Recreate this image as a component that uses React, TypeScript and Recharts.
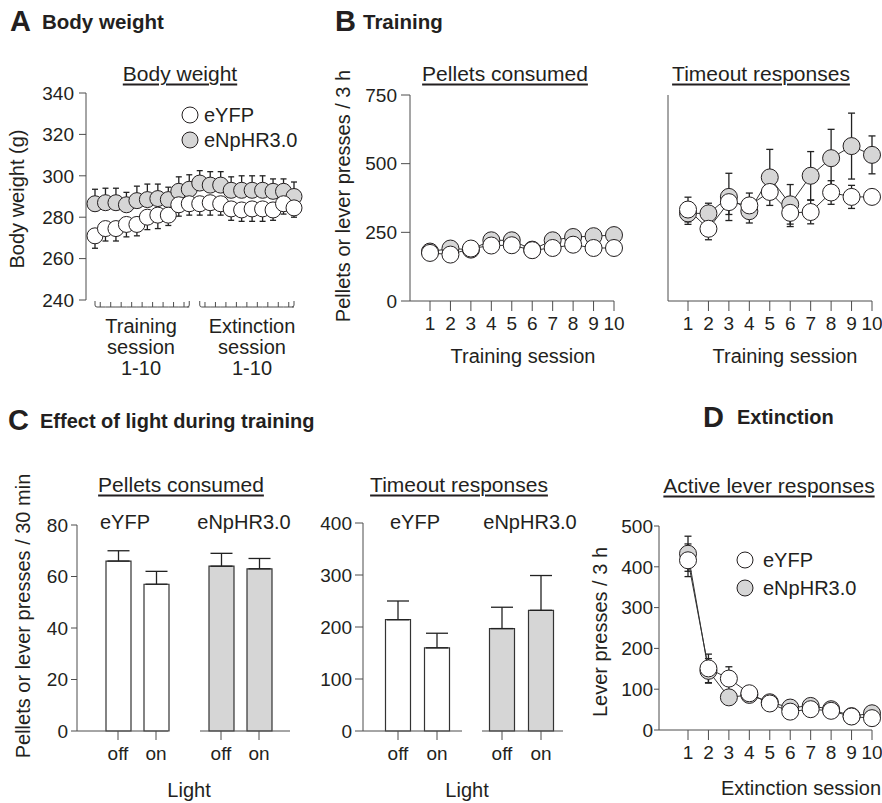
import React from 'react';
import { LineChart, Line, BarChart, Bar, XAxis, YAxis, ErrorBar } from 'recharts';

const FONT = '"Liberation Sans", Arial, Helvetica, sans-serif';
const INK = '#231f20';
const AXIS = '#4d4d4d';
const GREY = '#d6d6d6';

// A: body weight over training 1-10 then extinction 1-10
const bwSessions = [1, 2, 3, 4, 5, 6, 7, 8, 9, 10, 11, 12, 13, 14, 15, 16, 17, 18, 19, 20];
const bwEyfp = [271, 274.5, 274.5, 276.5, 276.5, 280, 281, 281, 286, 286.5, 286.5, 287, 286.5, 284, 283.5, 284, 284, 283.5, 286.5, 284.5];
const bwEyfpSem = [6, 6, 6, 6, 5.5, 6, 6.5, 5, 5.5, 5.5, 5.5, 6, 5.5, 5.5, 5.5, 6, 6, 5, 5, 4.5];
const bwNphr = [286.5, 287, 287, 286, 288, 288.5, 289, 288.5, 292.5, 293.5, 296.5, 295.5, 295.5, 293, 293, 293, 293, 292.5, 292.5, 290];
const bwNphrSem = [7, 7, 7, 6, 7, 7.5, 7, 6, 7, 7, 6, 6.5, 6.5, 6.5, 7, 7, 7, 6, 6, 7];
const bwTicks = [240, 260, 280, 300, 320, 340];

// B: training, 3 h sessions
const sessions = [1, 2, 3, 4, 5, 6, 7, 8, 9, 10];
const pelletsEyfp = [175, 169, 191, 202, 203, 185, 193, 205, 193, 193];
const pelletsNphr = [180, 191, 187, 221, 221, 187, 221, 233, 236, 240];
const timeoutEyfp = [333, 263, 360, 348, 397, 321, 324, 395, 379, 379];
const timeoutEyfpSem = [45, 40, 45, 45, 25, 50, 43, 43, 42, 10];
const timeoutNphr = [319, 319, 379, 327, 450, 352, 456, 520, 564, 532];
const timeoutNphrSem = [40, 37, 86, 43, 102, 72, 88, 105, 120, 69];
const trainTicks = [0, 250, 500, 750];

// C: light off / on, 30 min
const lightConds = ['off', 'on'];
const lightPelletsEyfp = [66, 57];
const lightPelletsEyfpSem = [4, 5];
const lightPelletsNphr = [64, 63];
const lightPelletsNphrSem = [5, 4];
const lightTimeoutEyfp = [214, 160];
const lightTimeoutEyfpSem = [36, 28];
const lightTimeoutNphr = [197, 232];
const lightTimeoutNphrSem = [41, 67];
const pelletTicks = [0, 20, 40, 60, 80];
const timeoutTicks = [0, 100, 200, 300, 400];

// D: extinction
const extEyfp = [416, 151, 126, 90, 65, 45, 51, 47, 33, 29];
const extEyfpSem = [40, 35, 29, 8, 6, 6, 6, 6, 6, 6];
const extNphr = [432, 145, 80, 86, 68, 55, 59, 51, 34, 41];
const extNphrSem = [43, 30, 15, 8, 6, 6, 6, 6, 6, 6];
const extTicks = [0, 100, 200, 300, 400, 500];

const bwData = bwSessions.map((s, i) => ({
  s,
  eyfp: bwEyfp[i],
  eyfpErr: [bwEyfpSem[i], 0],
  nphr: bwNphr[i],
  nphrErr: [0, bwNphrSem[i]],
}));
const pelletsData = sessions.map((s, i) => ({ s, eyfp: pelletsEyfp[i], nphr: pelletsNphr[i] }));
const timeoutData = sessions.map((s, i) => ({
  s,
  eyfp: timeoutEyfp[i],
  eyfpErr: timeoutEyfpSem[i],
  nphr: timeoutNphr[i],
  nphrErr: timeoutNphrSem[i],
}));
const extData = sessions.map((s, i) => ({
  s,
  eyfp: extEyfp[i],
  eyfpErr: extEyfpSem[i],
  nphr: extNphr[i],
  nphrErr: extNphrSem[i],
}));
const barRows = (v: number[], e: number[]) => lightConds.map((c, i) => ({ c, v: v[i], err: [0, e[i]] }));

const tickFont = { fontSize: 19, fill: INK };
const BW_PAD_L = 9;
const BW_PAD_R = 6;
const BW_PLOT_W = 214;
const BW_STEP = (BW_PLOT_W - BW_PAD_L - BW_PAD_R) / (bwSessions.length - 1);

function Txt({ x, y, children, size = 20, bold = false, align = 'center', rotate = 0, underline = false }: any) {
  const tx = align === 'center' ? '-50%' : '0';
  return (
    <div
      style={{
        position: 'absolute',
        left: x,
        top: y,
        transform: `translate(${tx}, -50%) rotate(${rotate}deg)`,
        fontSize: size,
        fontWeight: bold ? 700 : 400,
        lineHeight: 1,
        whiteSpace: 'nowrap',
        textDecoration: underline ? 'underline' : 'none',
        textDecorationThickness: 1.5,
        textUnderlineOffset: 3,
      }}
    >
      {children}
    </div>
  );
}

function LegendRow({ x, y, fill, label, gap = 14 }: any) {
  return (
    <>
      <svg style={{ position: 'absolute', left: x - 9, top: y - 9 }} width={18} height={18}>
        <circle cx={9} cy={9} r={8} fill={fill} stroke={INK} strokeWidth={1} />
      </svg>
      <Txt x={x + gap} y={y} align="start">{label}</Txt>
    </>
  );
}

// session brackets under the body weight panel
function BracketTick(props: any) {
  const { x, y, payload } = props;
  const v = payload.value;
  const s = BW_STEP;
  const base = y + 7;
  const first = v === 1 || v === 11;
  const last = v === 10 || v === 20;
  const d: string[] = [];
  if (first) d.push(`M${x},${y + 1} V${base - 2} Q${x},${base} ${x + 2},${base}`);
  if (last) d.push(`M${x - 2},${base} Q${x},${base} ${x},${base - 2} V${y + 1}`);
  if (!last) {
    d.push(`M${first ? x + 2 : x},${base} H${x + s}`);
    d.push(`M${x + s / 2},${base} V${base - 5}`);
  }
  return <path d={d.join(' ')} fill="none" stroke={AXIS} strokeWidth={1} />;
}

const dotStyle = (fill: string, r: number) => ({ r, fill, stroke: INK, strokeWidth: 1 });

function SessionPlot({ data, left, top, width, height, marginTop, marginRight, yWidth, ticks, labels, padLeft, r, errors, yTickSize, yTickMargin }: any) {
  const max = ticks[ticks.length - 1];
  return (
    <div style={{ position: 'absolute', left, top }}>
      <LineChart width={width} height={height} data={data} margin={{ top: marginTop, right: marginRight, bottom: 5, left: 0 }}>
        <XAxis
          type="number"
          dataKey="s"
          domain={[1, 10]}
          ticks={sessions}
          interval={0}
          padding={{ left: padLeft, right: 0 }}
          height={40}
          tick={tickFont}
          tickSize={10}
          tickMargin={6}
          stroke={AXIS}
        />
        <YAxis
          domain={[0, max]}
          ticks={ticks}
          width={yWidth}
          tick={labels ? tickFont : false}
          tickSize={yTickSize}
          tickMargin={yTickMargin}
          stroke={AXIS}
        />
        <Line dataKey="nphr" stroke="#333" strokeWidth={1} dot={dotStyle(GREY, r)} activeDot={false} isAnimationActive={false}>
          {errors && <ErrorBar dataKey="nphrErr" direction="y" width={3.5} stroke="#222" strokeWidth={1.3} />}
        </Line>
        <Line dataKey="eyfp" stroke="#333" strokeWidth={1} dot={dotStyle('#fff', r)} activeDot={false} isAnimationActive={false}>
          {errors && <ErrorBar dataKey="eyfpErr" direction="y" width={3.5} stroke="#222" strokeWidth={1.3} />}
        </Line>
      </LineChart>
    </div>
  );
}

function LightGroup({ data, left, width, marginTop, marginLeft, yWidth, ticks, showY, padL, padR, fill, yTickSize }: any) {
  return (
    <div style={{ position: 'absolute', left, top: 460 }}>
      <BarChart width={width} height={321} data={data} margin={{ top: marginTop, right: 5, bottom: 5, left: marginLeft }}>
        <XAxis
          dataKey="c"
          padding={{ left: padL, right: padR }}
          height={45}
          tick={tickFont}
          tickSize={9}
          tickMargin={7}
          stroke={AXIS}
        />
        <YAxis
          hide={!showY}
          domain={[0, ticks[ticks.length - 1]]}
          ticks={ticks}
          width={yWidth}
          tick={tickFont}
          tickSize={yTickSize}
          tickMargin={3}
          stroke={AXIS}
        />
        <Bar dataKey="v" fill={fill} stroke="#333" strokeWidth={1.2} barSize={25} isAnimationActive={false}>
          <ErrorBar dataKey="err" direction="y" width={11} stroke="#222" strokeWidth={1.3} />
        </Bar>
      </BarChart>
    </div>
  );
}

export default function App() {
  return (
    <div
      style={{
        position: 'absolute',
        left: 0,
        top: 0,
        width: 882,
        height: 803,
        background: '#fff',
        overflow: 'hidden',
        fontFamily: FONT,
        color: INK,
      }}
    >
      {/* A */}
      <Txt x={10} y={21} size={29} bold align="start">A</Txt>
      <Txt x={42} y={22} size={20.5} bold align="start">Body weight</Txt>
      <Txt x={180} y={73} size={21} underline>Body weight</Txt>
      <Txt x={17} y={199} rotate={-90}>Body weight (g)</Txt>
      <div style={{ position: 'absolute', left: 0, top: 0 }}>
        <LineChart width={312} height={330} data={bwData} margin={{ top: 93, right: 12, bottom: 10, left: 0 }}>
          <XAxis
            type="number"
            dataKey="s"
            domain={[1, 20]}
            ticks={bwSessions}
            interval={0}
            padding={{ left: BW_PAD_L, right: BW_PAD_R }}
            axisLine={false}
            tickLine={false}
            tickSize={0}
            tickMargin={0}
            height={20}
            tick={(p: any) => <BracketTick {...p} />}
          />
          <YAxis domain={[240, 340]} ticks={bwTicks} width={86} tick={tickFont} tickSize={7} tickMargin={5} stroke={AXIS} />
          <Line dataKey="nphr" stroke="#333" strokeWidth={1} dot={dotStyle(GREY, 8)} activeDot={false} isAnimationActive={false}>
            <ErrorBar dataKey="nphrErr" direction="y" width={3} stroke="#222" strokeWidth={1.3} />
          </Line>
          <Line dataKey="eyfp" stroke="#333" strokeWidth={1} dot={dotStyle('#fff', 8)} activeDot={false} isAnimationActive={false}>
            <ErrorBar dataKey="eyfpErr" direction="y" width={3} stroke="#222" strokeWidth={1.3} />
          </Line>
        </LineChart>
      </div>
      <LegendRow x={190} y={115} fill="#fff" label="eYFP" />
      <LegendRow x={190} y={140} fill={GREY} label="eNpHR3.0" />
      <div style={{ position: 'absolute', left: 141, top: 316, transform: 'translateX(-50%)', fontSize: 20, lineHeight: '21px', textAlign: 'center' }}>
        Training<br />session<br />1-10
      </div>
      <div style={{ position: 'absolute', left: 252, top: 316, transform: 'translateX(-50%)', fontSize: 20, lineHeight: '21px', textAlign: 'center' }}>
        Extinction<br />session<br />1-10
      </div>

      {/* B */}
      <Txt x={335} y={21} size={29} bold align="start">B</Txt>
      <Txt x={363} y={22} size={20.5} bold align="start">Training</Txt>
      <Txt x={505} y={73} size={21} underline>Pellets consumed</Txt>
      <Txt x={761} y={73} size={21} underline>Timeout responses</Txt>
      <Txt x={343} y={196} rotate={-90}>Pellets or lever presses / 3 h</Txt>
      <SessionPlot
        data={pelletsData}
        left={320}
        top={60}
        width={310}
        height={286}
        marginTop={35}
        marginRight={16}
        yWidth={90}
        ticks={trainTicks}
        labels
        padLeft={20}
        r={8.5}
        errors={false}
        yTickSize={9}
        yTickMargin={4}
      />
      <SessionPlot
        data={timeoutData}
        left={620}
        top={60}
        width={264}
        height={286}
        marginTop={35}
        marginRight={12}
        yWidth={48}
        ticks={trainTicks}
        labels={false}
        padLeft={20}
        r={8.5}
        errors
        yTickSize={9}
        yTickMargin={4}
      />
      <Txt x={523} y={356}>Training session</Txt>
      <Txt x={785} y={356}>Training session</Txt>

      {/* C */}
      <Txt x={8} y={420} size={29} bold align="start">C</Txt>
      <Txt x={40} y={421} size={20} bold align="start">Effect of light during training</Txt>
      <Txt x={181} y={484} size={21} underline>Pellets consumed</Txt>
      <Txt x={459} y={484} size={21} underline>Timeout responses</Txt>
      <Txt x={23} y={616} rotate={-90}>Pellets or lever presses / 30 min</Txt>
      <Txt x={125} y={522}>eYFP</Txt>
      <Txt x={244} y={522}>eNpHR3.0</Txt>
      <Txt x={415} y={522}>eYFP</Txt>
      <Txt x={530} y={522}>eNpHR3.0</Txt>
      <LightGroup data={barRows(lightPelletsEyfp, lightPelletsEyfpSem)} left={0} width={173} marginTop={65} marginLeft={0} yWidth={77} ticks={pelletTicks} showY padL={22} padR={-7} fill="#fff" yTickSize={6} />
      <LightGroup data={barRows(lightPelletsNphr, lightPelletsNphrSem)} left={195} width={100} marginTop={65} marginLeft={5} yWidth={0} ticks={pelletTicks} showY={false} padL={2} padR={12} fill={GREY} yTickSize={6} />
      <LightGroup data={barRows(lightTimeoutEyfp, lightTimeoutEyfpSem)} left={300} width={167} marginTop={63} marginLeft={0} yWidth={63} ticks={timeoutTicks} showY padL={15.5} padR={5.5} fill="#fff" yTickSize={8} />
      <LightGroup data={barRows(lightTimeoutNphr, lightTimeoutNphrSem)} left={477} width={91} marginTop={63} marginLeft={5} yWidth={0} ticks={timeoutTicks} showY={false} padL={0.5} padR={2.5} fill={GREY} yTickSize={8} />
      <Txt x={189} y={790}>Light</Txt>
      <Txt x={467} y={790}>Light</Txt>

      {/* D */}
      <Txt x={703} y={417} size={29} bold align="start">D</Txt>
      <Txt x={737} y={417} size={20} bold align="start">Extinction</Txt>
      <Txt x={769} y={485} size={21} underline>Active lever responses</Txt>
      <Txt x={600} y={632} rotate={-90}>Lever presses / 3 h</Txt>
      <SessionPlot
        data={extData}
        left={580}
        top={460}
        width={304}
        height={315}
        marginTop={66}
        marginRight={12}
        yWidth={79}
        ticks={extTicks}
        labels
        padLeft={29}
        r={8.5}
        errors
        yTickSize={5}
        yTickMargin={1}
      />
      <LegendRow x={745} y={560} fill="#fff" label="eYFP" gap={18} />
      <LegendRow x={745} y={588} fill={GREY} label="eNpHR3.0" gap={18} />
      <Txt x={801} y={788}>Extinction session</Txt>
    </div>
  );
}
